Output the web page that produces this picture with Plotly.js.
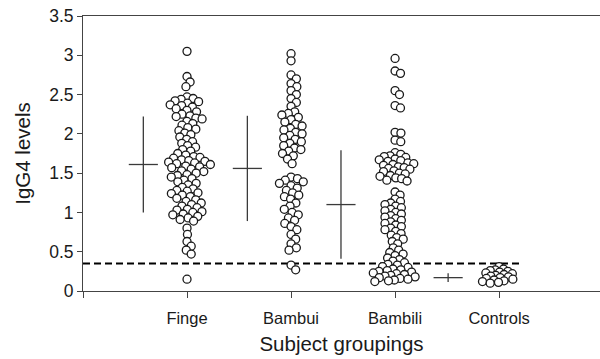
<!DOCTYPE html>
<html>
<head>
<meta charset="utf-8">
<script src="https://cdn.plot.ly/plotly-3.0.1.min.js"></script>
<style>html,body{margin:0;padding:0;background:#fff;}#chart{width:600px;height:359px;}</style>
</head>
<body>
<div id="chart"></div>
<script>
// ---- data ----
const categories = ["Finge", "Bambui", "Bambili", "Controls"];

const finge = [3.05, 2.73, 2.66, 2.60, 2.47, 2.45, 2.44, 2.42, 2.41, 2.39, 2.37, 2.36, 2.34, 2.32, 2.30, 2.28, 2.25, 2.23, 2.22, 2.20, 2.19, 2.16, 2.13, 2.11, 2.08, 2.06, 2.04, 2.01, 1.99, 1.96, 1.93, 1.90, 1.88, 1.85, 1.83, 1.80, 1.78, 1.75, 1.73, 1.71, 1.70, 1.69, 1.67, 1.66, 1.65, 1.64, 1.63, 1.62, 1.61, 1.59, 1.58, 1.57, 1.55, 1.53, 1.52, 1.50, 1.48, 1.47, 1.45, 1.43, 1.41, 1.39, 1.37, 1.35, 1.32, 1.30, 1.28, 1.27, 1.25, 1.24, 1.22, 1.20, 1.18, 1.16, 1.14, 1.12, 1.10, 1.08, 1.06, 1.04, 1.03, 1.01, 1.00, 0.98, 0.97, 0.95, 0.93, 0.91, 0.89, 0.80, 0.72, 0.63, 0.57, 0.52, 0.47, 0.15];

const bambui = [3.02, 2.93, 2.75, 2.70, 2.64, 2.60, 2.55, 2.50, 2.45, 2.40, 2.35, 2.28, 2.26, 2.24, 2.21, 2.18, 2.15, 2.12, 2.10, 2.07, 2.05, 2.02, 2.00, 1.98, 1.95, 1.93, 1.90, 1.88, 1.85, 1.82, 1.80, 1.78, 1.75, 1.72, 1.68, 1.62, 1.45, 1.43, 1.41, 1.39, 1.37, 1.34, 1.31, 1.28, 1.25, 1.22, 1.20, 1.17, 1.12, 1.08, 1.04, 1.00, 0.97, 0.93, 0.90, 0.86, 0.82, 0.78, 0.72, 0.66, 0.60, 0.55, 0.52, 0.33, 0.27];

const bambili = [2.96, 2.80, 2.77, 2.55, 2.50, 2.36, 2.33, 2.02, 2.01, 1.92, 1.90, 1.76, 1.74, 1.72, 1.71, 1.70, 1.68, 1.67, 1.66, 1.65, 1.63, 1.62, 1.61, 1.60, 1.58, 1.57, 1.56, 1.55, 1.53, 1.52, 1.50, 1.49, 1.47, 1.46, 1.44, 1.43, 1.41, 1.40, 1.26, 1.22, 1.17, 1.14, 1.12, 1.10, 1.08, 1.06, 1.04, 1.02, 1.00, 0.98, 0.96, 0.94, 0.92, 0.90, 0.88, 0.86, 0.84, 0.82, 0.80, 0.78, 0.76, 0.73, 0.71, 0.68, 0.66, 0.63, 0.60, 0.55, 0.52, 0.49, 0.47, 0.45, 0.42, 0.40, 0.38, 0.36, 0.34, 0.33, 0.31, 0.30, 0.28, 0.27, 0.26, 0.25, 0.24, 0.23, 0.22, 0.21, 0.20, 0.19, 0.18, 0.17, 0.16, 0.15, 0.14, 0.13, 0.12];

const controls = [0.31, 0.28, 0.27, 0.26, 0.25, 0.24, 0.23, 0.22, 0.21, 0.20, 0.19, 0.18, 0.17, 0.16, 0.15, 0.14, 0.13, 0.12, 0.11, 0.10];

const groupValues = [finge, bambui, bambili, controls];

// mean and SD summary crosses
const means = [1.61, 1.56, 1.10, 0.17];
const sds = [0.61, 0.67, 0.69, 0.055];
const crossPos = [0.58, 1.58, 2.48, 3.51];

const cutoff = 0.35;
const cutoffEnd = 4.22;

const yTicks = [0, 0.5, 1, 1.5, 2, 2.5, 3, 3.5];
const yTickText = ["0", "0.5", "1", "1.5", "2", "2.5", "3", "3.5"];

// ---- layout geometry ----
const W = 600, H = 359;
const M = {l: 83, r: 0, t: 16, b: 68};
const xRange = [0, 4.97];
const yRange = [0, 3.5];
const pxPerX = (W - M.l - M.r) / (xRange[1] - xRange[0]);
const pxPerY = (H - M.t - M.b) / (yRange[1] - yRange[0]);
const swarmGap = [6.3, 6.6, 5.9, 5.0];

// beeswarm offsets (computed from values)
function swarm(vals, d) {
  const placed = [];
  const offs = [];
  for (const v of vals) {
    const y = v * pxPerY;
    const cands = [0];
    for (const p of placed) {
      const dy = Math.abs(p.y - y);
      if (dy < d) {
        const dx = Math.sqrt(d * d - dy * dy);
        cands.push(p.x + dx, p.x - dx);
      }
    }
    cands.sort((a, b) => Math.abs(a) - Math.abs(b));
    let chosen = 0;
    for (const c of cands) {
      let ok = true;
      for (const p of placed) {
        const dx = p.x - c, dy = p.y - y;
        if (dx * dx + dy * dy < d * d - 1e-6) { ok = false; break; }
      }
      if (ok) { chosen = c; break; }
    }
    placed.push({x: chosen, y: y});
    offs.push(chosen / pxPerX);
  }
  return offs;
}

const traces = [];

// cutoff dashed line
traces.push({
  type: "scatter", mode: "lines", x: [0, cutoffEnd], y: [cutoff, cutoff],
  line: {color: "#000", width: 2.2, dash: "7px,4px"}, hoverinfo: "skip", showlegend: false
});

// crosses
const cx = [], cy = [];
const hw = 0.14;
means.forEach((m, i) => {
  cx.push(crossPos[i] - hw, crossPos[i] + hw, null, crossPos[i], crossPos[i], null);
  cy.push(m, m, null, m - sds[i], m + sds[i], null);
});
traces.push({
  type: "scatter", mode: "lines", x: cx, y: cy,
  line: {color: "#3a3a3a", width: 1.3}, hoverinfo: "skip", showlegend: false
});

groupValues.forEach((vals, i) => {
  const offs = swarm(vals, swarmGap[i]);
  traces.push({
    type: "scatter", mode: "markers",
    x: offs.map(o => i + 1 + o), y: vals,
    marker: {symbol: "circle", size: 8, color: "#ffffff", line: {color: "#1a1a1a", width: 1.3}},
    hoverinfo: "y", showlegend: false
  });
});

const font = {family: "Liberation Sans, Arial, sans-serif", size: 16, color: "#1a1a1a"};

const layout = {
  width: W, height: H,
  margin: M,
  paper_bgcolor: "#fff", plot_bgcolor: "#fff",
  font: font,
  showlegend: false,
  xaxis: {
    range: xRange, tickmode: "array",
    tickvals: [0, 1, 2, 3, 4, 5], ticktext: ["", ...categories, ""],
    ticks: "outside", ticklen: 6, tickwidth: 1, tickcolor: "#444",
    showline: true, linecolor: "#444", linewidth: 1, mirror: true,
    showgrid: false, zeroline: false,
    tickfont: {size: 16.5},
    ticklabelstandoff: 6,
    title: {text: "Subject groupings", font: {size: 20.5}, standoff: 10}
  },
  yaxis: {
    range: yRange, tickmode: "array", tickvals: yTicks, ticktext: yTickText,
    ticks: "outside", ticklen: 5, tickwidth: 1, tickcolor: "#444",
    showline: true, linecolor: "#444", linewidth: 1,
    showgrid: false, zeroline: false,
    tickfont: {size: 17.5},
    title: {text: "IgG4 levels", font: {size: 20.5}, standoff: 12}
  }
};

Plotly.newPlot("chart", traces, layout, {displayModeBar: false, staticPlot: true});
</script>
</body>
</html>
